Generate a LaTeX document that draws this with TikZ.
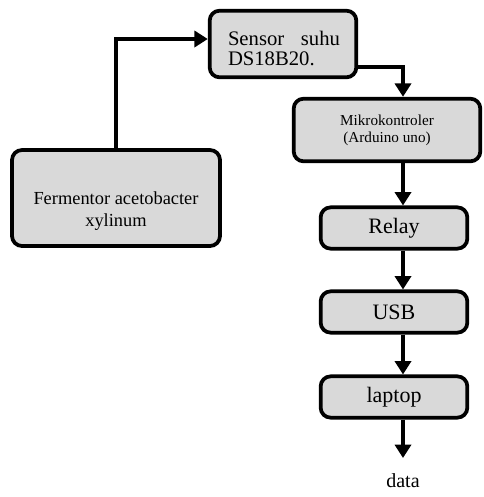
\documentclass[tikz,border=0pt]{standalone}
\usepackage{fontspec}
\setmainfont{Liberation Serif}
\usetikzlibrary{arrows.meta}
\definecolor{boxGray}{HTML}{D9D9D9}

\begin{document}
\begin{tikzpicture}
  [x=0.75pt,y=-0.75pt,
  blok/.style={rectangle,rounded corners=7.5pt,draw=black,line width=2.8pt,
    fill=boxGray,align=center,inner sep=0pt},
  kecil/.style={blok,minimum width=110pt,minimum height=31pt,
    font=\fontsize{16.5}{19}\selectfont},
  teks/.style={align=center,inner sep=0pt},
  post/.style={-{Triangle[length=10pt,width=12pt]},line width=2.8pt,draw}]

  \useasboundingbox (0,0) rectangle (483,497);

  \coordinate (col) at (403,0);

  \node[blok,minimum width=110pt,minimum height=50pt] (sensor) at (283,44) {};
  \node[teks,font=\fontsize{15.5}{15}\selectfont] (sensortxt) at (284,48)
    {\makebox[84pt][s]{Sensor suhu}\\\makebox[84pt][l]{DS18B20.}};

  \node[blok,minimum width=140pt,minimum height=47pt,
    font=\fontsize{11.4}{12.7}\selectfont] (mikro) at (387,130)
    {Mikrokontroler\\(Arduino uno)};

  \node[blok,minimum width=156pt,minimum height=72pt] (ferm) at (116,198) {};
  \node[teks,font=\fontsize{13.8}{17}\selectfont] (fermtxt) at (116,211)
    {Fermentor acetobacter\\xylinum};

  \node[kecil] (relay) at (394,228) {Relay};
  \node[kecil] (usb) at (394,312) {USB};
  \node[kecil] (laptop) at (394,397) {laptop};

  \node[teks,font=\fontsize{15}{16}\selectfont] (data) at (403,481) {data};

  \draw[post] (ferm.north) |- ([yshift=3.75pt]sensor.west);
  \draw[post] ([yshift=-17pt]sensor.east) -| (col |- mikro.north);
  \draw[post] (col |- mikro.south) -- (col |- relay.north);
  \draw[post] (col |- relay.south) -- (col |- usb.north);
  \draw[post] (col |- usb.south) -- (col |- laptop.north);
  \draw[post] (col |- laptop.south) -- (col |- 0,458);
\end{tikzpicture}
\end{document}
